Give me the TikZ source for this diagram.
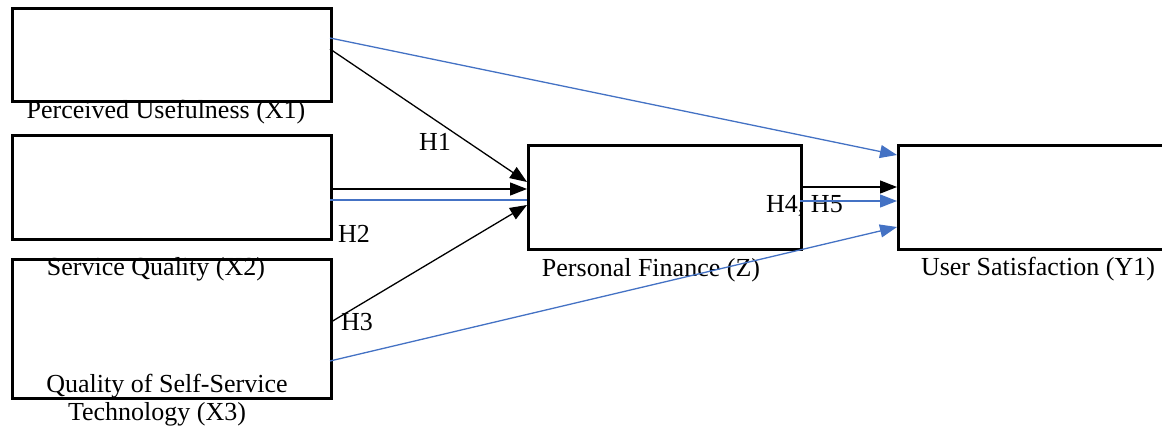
\documentclass[tikz,border=0pt]{standalone}
\usepackage{fontspec}
\setmainfont{Liberation Serif}
\usetikzlibrary{arrows.meta}
\definecolor{lineblue}{HTML}{4472C4}
\begin{document}
\begin{tikzpicture}[x=1pt,y=-1pt,
  box/.style={draw=black,line width=2.8pt,inner sep=0pt,anchor=north west},
  lbl/.style={anchor=base,inner sep=0pt,font=\fontsize{26}{31}\selectfont},
  blk/.style={draw=black,line width=1.3pt,-{Triangle[length=17pt,width=13pt]}},
  blu/.style={draw=lineblue,line width=1.3pt,-{Triangle[length=17pt,width=13pt]}},
  bluplain/.style={draw=lineblue,line width=1.3pt}]
\useasboundingbox (0,0) rectangle (1162,429);
\clip (0,0) rectangle (1162,429);
% boxes
\node[box,minimum width=319pt,minimum height=93pt] (x1) at (11,7) {};
\node[box,minimum width=319pt,minimum height=104pt] (x2) at (11,134) {};
\node[box,minimum width=319pt,minimum height=139pt] (x3) at (11,258) {};
\node[box,minimum width=273pt,minimum height=104pt] (z) at (527,144) {};
\node[box,minimum width=300pt,minimum height=104pt] (y) at (897,144) {};
% labels
\node[lbl] (lx1) at (166,118) {Perceived Usefulness (X1)};
\node[lbl] (lx2) at (156,275) {Service Quality (X2)};
\node[lbl] (lx3a) at (167,392) {Quality of Self-Service};
\node[lbl] (lx3b) at (157,420) {Technology (X3)};
\node[lbl] (lz) at (651,276) {Personal Finance (Z)};
\node[lbl] (ly) at (1038,275) {User Satisfaction (Y1)};
\node[lbl,anchor=base west] (h1) at (419,150) {H1};
\node[lbl,anchor=base west] (h2) at (338,242) {H2};
\node[lbl,anchor=base west] (h3) at (341,330) {H3};
\node[lbl,anchor=base west] (h45) at (766,212) {H4, H5};
% coordinates on box edges
\coordinate (x1b) at (330,38);
\coordinate (x1k) at (330,49);
\coordinate (x2k) at (330,189);
\coordinate (x2b) at (330,200);
\coordinate (x3k) at (331,322);
\coordinate (x3b) at (330,361);
\coordinate (zk1) at (527,182);
\coordinate (zk2) at (527,189);
\coordinate (zb2) at (527,200);
\coordinate (zk3) at (527,205);
\coordinate (zok) at (800,187);
\coordinate (zob) at (800,201);
\coordinate (yb1) at (897,155);
\coordinate (yk) at (897,187);
\coordinate (yb2) at (897,201);
\coordinate (yb3) at (897,227);
% connectors
\draw[blu] (x1b) -- (yb1);
\draw[blk] (x1k) -- (zk1);
\draw[blk] (x2k) -- (zk2);
\draw[bluplain] (x2b) -- (zb2);
\draw[blk] (x3k) -- (zk3);
\draw[blu] (x3b) -- (yb3);
\draw[blk] (zok) -- (yk);
\draw[blu] (zob) -- (yb2);
\end{tikzpicture}
\end{document}
